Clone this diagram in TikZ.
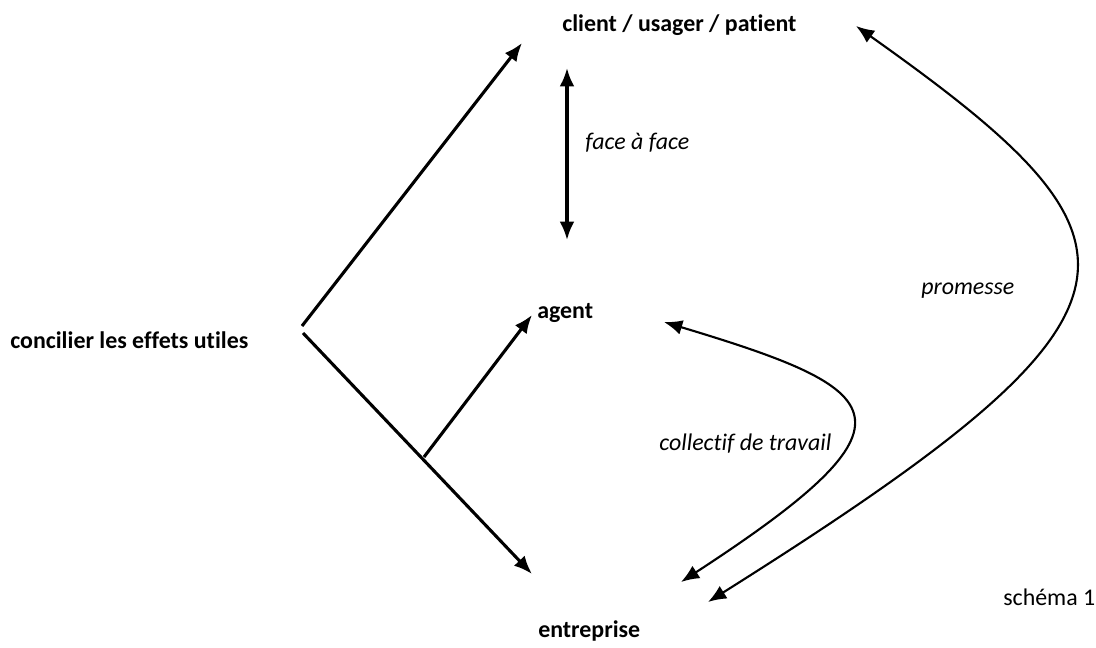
\documentclass[tikz,border=0pt]{standalone}
\usepackage{fontspec}
\setmainfont{Carlito}[Ligatures=NoCommon]
\usetikzlibrary{arrows.meta}
\tikzset{
    lbl/.style={font=\fontsize{17}{19}\selectfont\bfseries,inner sep=0pt,anchor=west},
    itl/.style={font=\fontsize{17}{19}\selectfont\itshape,inner sep=0pt,anchor=west},
    fleche/.style={line width=2.2pt},
    courbe/.style={line width=1.5pt,<->}
}
\begin{document}
\begin{tikzpicture}[>={Latex[length=13pt,width=10.5pt]},x=0.025cm,y=-0.025cm]
        \useasboundingbox (0,0) rectangle (1096,647);
        % textes
        \node[lbl] (client) at (562,25){client / usager / patient};
        \node[lbl] (agent) at (537,313){agent};
        \node[lbl] (concilier) at (10,340){concilier les effets utiles};
        \node[lbl] (entreprise) at (538,631){entreprise};
        \node[itl] (face) at (585,143){face à face};
        \node[itl] (promesse) at (921,291){promesse};
        \node[itl] (collectif) at (659,444){collectif de travail};
        \node[font=\fontsize{17}{19}\selectfont,inner sep=0pt,anchor=west] (schema) at (1003,597){schéma 1};
        % points
        \coordinate (haut) at (302,326);
        \coordinate (bas) at (303,333);
        \coordinate (branche) at (424,457);
        \coordinate (vclient) at (522,43);
        \coordinate (ventreprise) at (532,574);
        \coordinate (vagent) at (532,315);
        \coordinate (fa) at (567,68);
        \coordinate (fb) at (567,240);
        \coordinate (ca) at (664,322);
        \coordinate (cb) at (681,582);
        \coordinate (pa) at (856,26);
        \coordinate (pb) at (708,602);
        % fleches
        \draw[fleche,->] (haut)--(vclient);
        \draw[fleche,->] (bas)--(ventreprise);
        \draw[fleche,->] (branche)--(vagent);
        \draw[fleche,<->] (fa)--(fb);
        \draw[courbe] (cb) .. controls (930,420) and (890,390) .. (ca);
        \draw[courbe] (pb) .. controls (1172,310) and (1165,245) .. (pa);
    \end{tikzpicture}
\end{document}
